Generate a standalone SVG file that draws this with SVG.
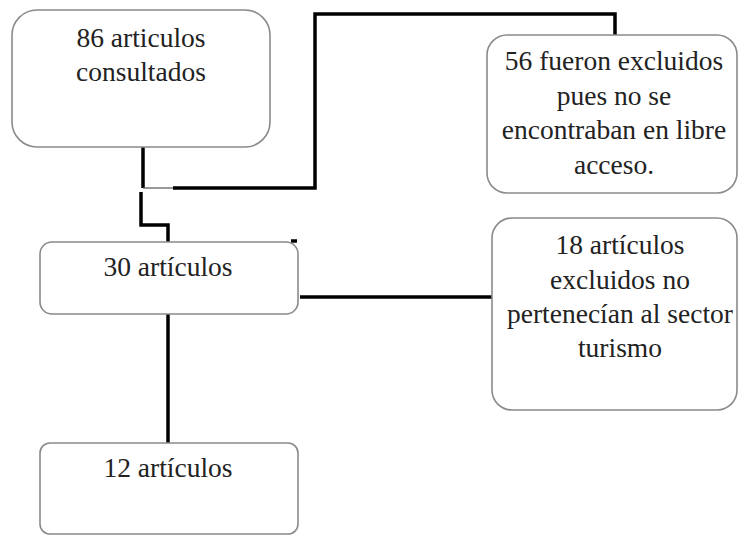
<svg xmlns="http://www.w3.org/2000/svg" width="738" height="536" viewBox="0 0 738 536">
<style>
.box{fill:#fff;stroke:#8a8a8a;stroke-width:1.6}
.t{font-family:'Times New Roman';font-size:27.5px;fill:#222;text-anchor:middle}
.c{fill:none;stroke:#000;stroke-width:3.5;stroke-linejoin:miter}
.thin{fill:none;stroke:#555;stroke-width:1.2}
</style>
<rect x="0" y="0" width="738" height="536" fill="#fff"/>
<g id="connectors">
<path class="c" d="M143,147 V188"/>
<path class="thin" d="M143,188 H173"/>
<path class="c" d="M173,188 H315 V14 H615 V35"/>
<path class="c" d="M141,192 V225 H168 V242"/>
<path class="c" d="M300,297 H492"/>
<path class="c" d="M168,314 V443"/>
<path class="c" d="M291,241 H297"/>
</g>
<g id="n1">
<rect class="box" x="12" y="10" width="258" height="137" rx="25"/>
<text class="t" x="141" y="47">86 articulos</text>
<text class="t" x="141" y="81">consultados</text>
</g>
<g id="n2">
<rect class="box" x="487" y="35" width="250" height="158" rx="20"/>
<text class="t" x="614" y="70">56 fueron excluidos</text>
<text class="t" x="614" y="105">pues no se</text>
<text class="t" x="614" y="139">encontraban en libre</text>
<text class="t" x="614" y="174">acceso.</text>
</g>
<g id="n3">
<rect class="box" x="40" y="242" width="258" height="72" rx="12"/>
<text class="t" x="168" y="276">30 artículos</text>
</g>
<g id="n4">
<rect class="box" x="492" y="218" width="245" height="192" rx="20"/>
<text class="t" x="620" y="254">18 artículos</text>
<text class="t" x="620" y="289">excluidos no</text>
<text class="t" x="620" y="323">pertenecían al sector</text>
<text class="t" x="620" y="357">turismo</text>
</g>
<g id="n5">
<rect class="box" x="40" y="443" width="258" height="91" rx="10"/>
<text class="t" x="168" y="477">12 artículos</text>
</g>
</svg>
